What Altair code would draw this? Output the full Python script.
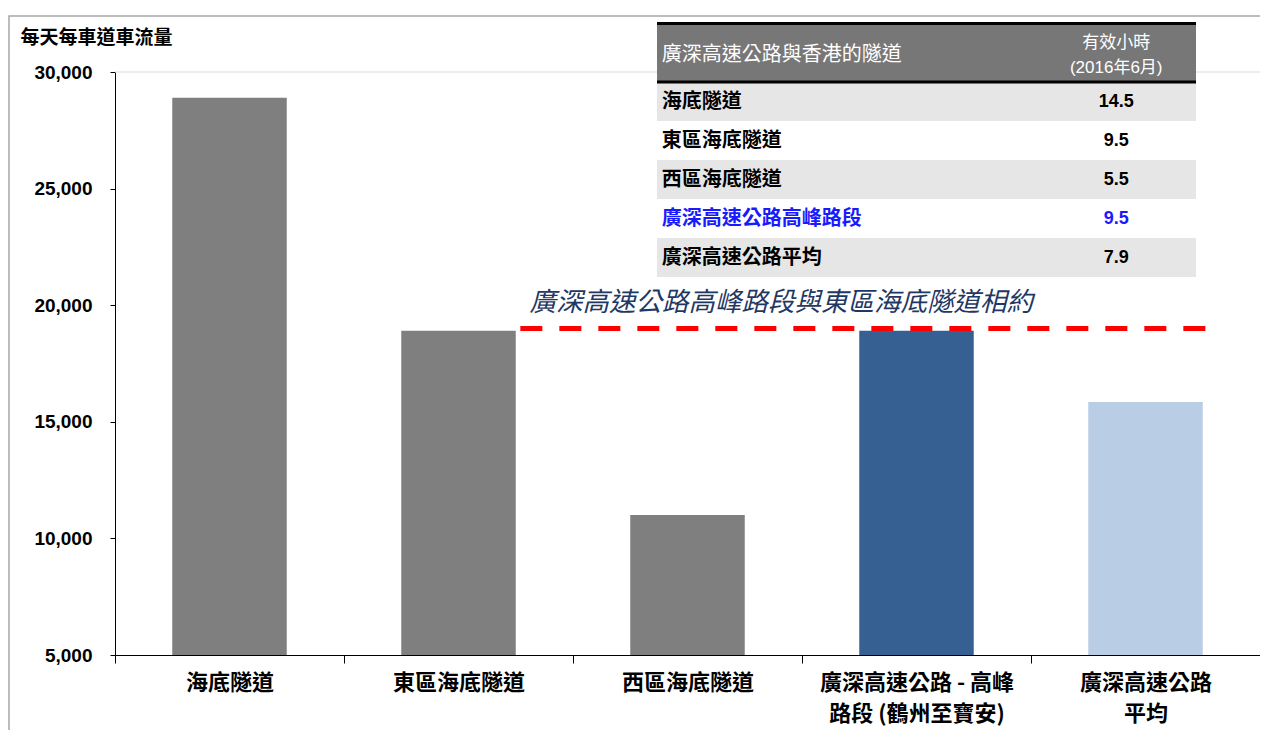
import altair as alt
import pandas as pd

# ---------------- data ----------------
categories = ["海底隧道", "東區海底隧道", "西區海底隧道",
              "廣深高速公路 - 高峰|路段 (鶴州至寶安)", "廣深高速公路|平均"]
traffic = [28900, 18900, 11000, 18900, 15850]
bar_colors = ["#7f7f7f", "#7f7f7f", "#7f7f7f", "#376092", "#b9cde5"]

y_ticks = [5000, 10000, 15000, 20000, 25000, 30000]
y_title = "每天每車道車流量"

annotation_text = "廣深高速公路高峰路段與東區海底隧道相約"
annotation_level = [19000]
annotation_text_level = [20100]

header_col1 = "廣深高速公路與香港的隧道"
header_col2 = ["有效小時", "(2016年6月)"]
table_names = ["海底隧道", "東區海底隧道", "西區海底隧道", "廣深高速公路高峰路段", "廣深高速公路平均"]
table_hours = ["14.5", "9.5", "5.5", "9.5", "7.9"]
table_text_colors = ["#000000", "#000000", "#000000", "#1a1aff", "#000000"]
table_fills = ["#e6e6e6", "#ffffff", "#e6e6e6", "#ffffff", "#e6e6e6"]

FONT = "Liberation Sans, 'Noto Sans CJK TC', sans-serif"
CJK = "'Noto Sans CJK TC', Liberation Sans, sans-serif"
W, H = 1145, 583

# ---------------- main chart ----------------
bars_df = pd.DataFrame({"cat": categories, "value": traffic, "color": bar_colors})
xscale = alt.Scale(domain=categories, paddingInner=0, paddingOuter=0)
yscale = alt.Scale(domain=[5000, 30000], nice=False, zero=False)

yaxis = alt.Axis(values=y_ticks, labelExpr="format(datum.value, ',')", grid=False, tickSize=5,
                 tickColor="#000000", domainColor="#000000",
                 labelFont=FONT, labelFontSize=19, labelFontWeight="bold",
                 labelColor="#000000", labelPadding=18,
                 titleAngle=0, titleAlign="left", titleBaseline="middle",
                 titleX=-95, titleY=-35, titleFont=CJK, titleFontSize=19,
                 titleFontWeight="bold", titleColor="#000000")
xaxis = alt.Axis(title=None, tickBand="extent", tickSize=8, tickColor="#000000",
                 domainColor="#000000", labelAngle=0, labelLimit=0,
                 labelExpr="split(datum.label, '|')",
                 labelFont=CJK, labelFontSize=22, labelFontWeight="bold",
                 labelColor="#000000", labelLineHeight=31, labelPadding=9)

bars = alt.Chart(bars_df).mark_bar(width=alt.RelativeBandSize(0.5)).encode(
    x=alt.X("cat:N", sort=categories, scale=xscale, axis=xaxis),
    y=alt.Y("value:Q", scale=yscale, title=y_title, axis=yaxis),
    y2=alt.Y2Datum(5000),
    color=alt.Color("color:N", scale=None),
)

top_line = alt.Chart(pd.DataFrame({"value": [30000]})).mark_rule(
    color="#d9d9d9", strokeWidth=1).encode(
    x=alt.XDatum(categories[0], type="nominal", scale=xscale, bandPosition=0, axis=xaxis),
    x2=alt.X2Datum(categories[4], bandPosition=1),
    y=alt.Y("value:Q", scale=yscale, title=y_title, axis=yaxis),
)

dash = alt.Chart(pd.DataFrame({"value": annotation_level})).mark_rule(
    color="#ff0000", strokeWidth=5, strokeDash=[22, 17]).encode(
    x=alt.XDatum(categories[1], type="nominal", scale=xscale, bandPosition=0.77, axis=xaxis),
    x2=alt.X2Datum(categories[4], bandPosition=0.80),
    y=alt.Y("value:Q", scale=yscale, title=y_title, axis=yaxis),
)

note = alt.Chart(pd.DataFrame({"value": annotation_text_level, "t": [annotation_text]})).mark_text(
    font=CJK, fontSize=26.5, fontStyle="italic", color="#1f3864", align="left",
    baseline="middle").encode(
    x=alt.XDatum(categories[1], type="nominal", scale=xscale, bandPosition=0.81, axis=xaxis),
    y=alt.Y("value:Q", scale=yscale, title=y_title, axis=yaxis),
    text="t:N",
)

main = alt.layer(bars, top_line, dash, note)

# ---------------- table ----------------
tx = alt.Scale(domain=[0, 1], range=[542, 1081], nice=False, zero=False)
ty = alt.Scale(domain=[-1.5, 5], range=[-48.5, 205], nice=False, zero=False)

rows_df = pd.DataFrame({
    "top": list(range(5)),
    "bottom": [i + 1 for i in range(5)],
    "mid": [i + 0.5 for i in range(5)],
    "name": table_names,
    "hours": table_hours,
    "tcolor": table_text_colors,
    "fill": table_fills,
})

row_rects = alt.Chart(rows_df).mark_rect().encode(
    x=alt.XDatum(0, type="quantitative", scale=tx, axis=None),
    x2=alt.X2Datum(1),
    y=alt.Y("top:Q", scale=ty, axis=None),
    y2="bottom:Q",
    color=alt.Color("fill:N", scale=None),
)

header_rect = alt.Chart(pd.DataFrame({"top": [-1.5], "bottom": [0]})).mark_rect(
    color="#777777").encode(
    x=alt.XDatum(0, type="quantitative", scale=tx, axis=None),
    x2=alt.X2Datum(1),
    y=alt.Y("top:Q", scale=ty, axis=None),
    y2="bottom:Q",
)

header_lines = alt.Chart(pd.DataFrame({"top": [-1.5, 0]})).mark_rule(
    color="#000000", strokeWidth=3).encode(
    x=alt.XDatum(0, type="quantitative", scale=tx, axis=None),
    x2=alt.X2Datum(1),
    y=alt.Y("top:Q", scale=ty, axis=None),
)

header_t1 = alt.Chart(pd.DataFrame({"u": [-0.69], "t": [header_col1]})).mark_text(
    font=CJK, fontSize=20, color="#ffffff", align="left", baseline="middle").encode(
    x=alt.XDatum(0.009, type="quantitative", scale=tx, axis=None),
    y=alt.Y("u:Q", scale=ty, axis=None),
    text="t:N",
)

header_t2 = alt.Chart(pd.DataFrame({"u": [-1.0, -0.36], "t": header_col2})).mark_text(
    font=FONT, fontSize=17, color="#ffffff", align="center", baseline="middle").encode(
    x=alt.XDatum(0.852, type="quantitative", scale=tx, axis=None),
    y=alt.Y("u:Q", scale=ty, axis=None),
    text="t:N",
)

row_names = alt.Chart(rows_df).mark_text(
    font=CJK, fontSize=20, fontWeight="bold", align="left", baseline="middle").encode(
    x=alt.XDatum(0.009, type="quantitative", scale=tx, axis=None),
    y=alt.Y("mid:Q", scale=ty, axis=None),
    text="name:N",
    color=alt.Color("tcolor:N", scale=None),
)

row_hours = alt.Chart(rows_df).mark_text(
    font=FONT, fontSize=18, fontWeight="bold", align="center", baseline="middle").encode(
    x=alt.XDatum(0.852, type="quantitative", scale=tx, axis=None),
    y=alt.Y("mid:Q", scale=ty, axis=None),
    text="hours:N",
    color=alt.Color("tcolor:N", scale=None),
)

frame = alt.Chart(pd.DataFrame({"a": [0]})).mark_rect(
    filled=False, stroke="#a6a6a6", strokeWidth=1.5).encode(
    x=alt.value(-106), x2=alt.value(W + 60), y=alt.value(-56), y2=alt.value(H + 200),
)

table = alt.layer(row_rects, header_rect, header_lines, header_t1, header_t2,
                  row_names, row_hours, frame)

chart = alt.layer(main, table).resolve_scale(
    x="independent", y="independent", color="independent"
).properties(
    width=W, height=H,
    autosize=alt.AutoSizeParams(type="none"),
    padding={"left": 107, "top": 64, "right": 0, "bottom": 75},
    background="#ffffff",
).configure_view(stroke=None)

chart.save("out.html", embed_options={"renderer": "svg", "actions": False})
